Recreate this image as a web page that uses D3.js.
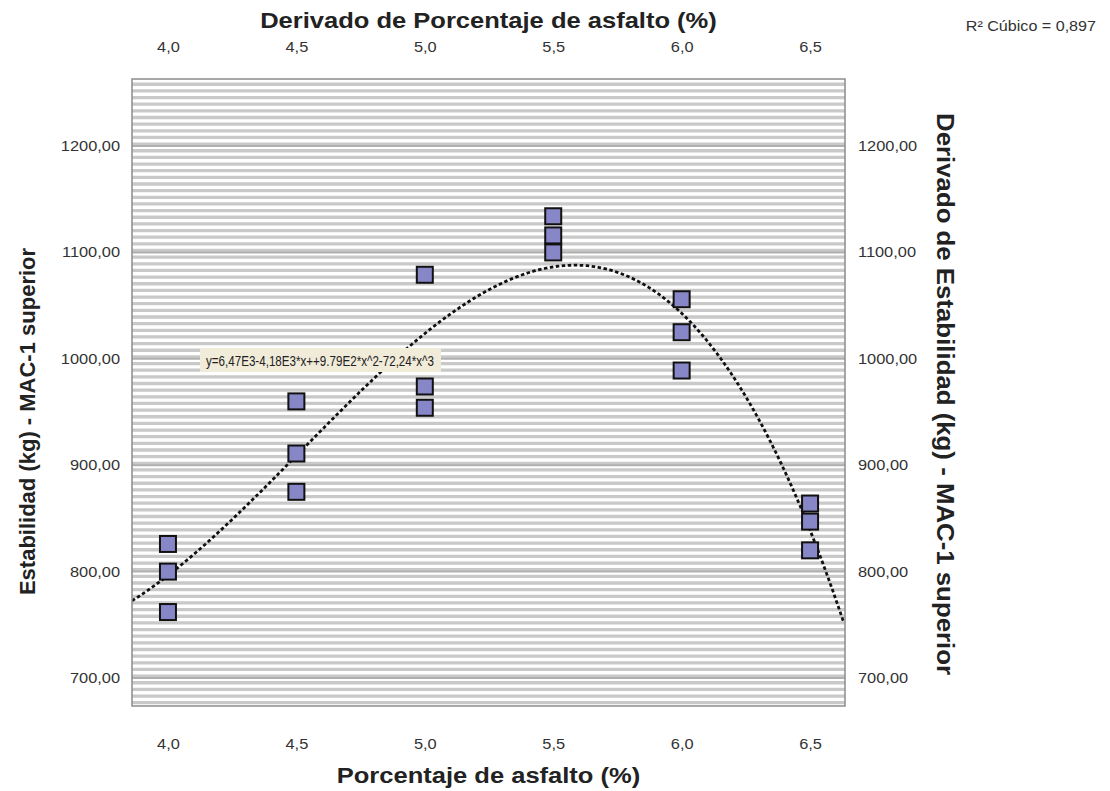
<!DOCTYPE html>
<html>
<head>
<meta charset="utf-8">
<script src="https://cdnjs.cloudflare.com/ajax/libs/d3/7.8.5/d3.min.js"></script>
<style>
  body { margin: 0; background: #fff; }
  text { font-family: "Liberation Sans", Arial, sans-serif; }
</style>
</head>
<body>
<div id="chart"></div>
<script>
// asphalt % and stability (kg)
var asfalto = [4.0, 4.0, 4.0, 4.5, 4.5, 4.5, 5.0, 5.0, 5.0, 5.5, 5.5, 5.5, 6.0, 6.0, 6.0, 6.5, 6.5, 6.5];
var estabilidad = [826, 800, 762, 960, 911, 875, 1079, 974, 954, 1134, 1116, 1100, 1056, 1025, 989, 864, 847, 820];
var xTicks = [4.0, 4.5, 5.0, 5.5, 6.0, 6.5];
var yTicks = [700, 800, 900, 1000, 1100, 1200];
var ecuacion = "y=6,47E3-4,18E3*x++9.79E2*x^2-72,24*x^3";
var r2Label = "R\u00B2 C\u00FAbico = 0,897";

var width = 1110, height = 791;
var margin = { top: 79, right: 265, bottom: 85, left: 132 };
var iw = width - margin.left - margin.right,
    ih = height - margin.top - margin.bottom;

var x = d3.scaleLinear().domain([3.86, 6.636]).range([0, iw]);
var y = d3.scaleLinear().domain([673.7, 1263]).range([ih, 0]);

var comma = function (f) {
  return function (d) { return d3.format(f)(d).replace(".", ","); };
};

// the source picture is a bit wider than tall, so stretch text horizontally
function stretch(sel, k) {
  sel.each(function () {
    var w = this.getComputedTextLength();
    d3.select(this).attr("textLength", w * k).attr("lengthAdjust", "spacingAndGlyphs");
  });
}

var svg = d3.select("#chart").append("svg")
  .attr("width", width).attr("height", height);
var g = svg.append("g")
  .attr("transform", "translate(" + margin.left + "," + margin.top + ")");

// striped background
g.append("rect").attr("width", iw).attr("height", ih).attr("fill", "#fff");
var stripes = d3.range(y.domain()[0] + 3.1, y.domain()[1], 6.25);
g.selectAll("line.stripe").data(stripes).enter().append("line")
  .attr("class", "stripe")
  .attr("x1", 0).attr("x2", iw)
  .attr("y1", function (d) { return y(d); })
  .attr("y2", function (d) { return y(d); })
  .attr("stroke", "#c9c9c9")
  .attr("stroke-width", 3.3);

// major grid
g.selectAll("line.grid").data(yTicks).enter().append("line")
  .attr("class", "grid")
  .attr("x1", 0).attr("x2", iw)
  .attr("y1", function (d) { return y(d); })
  .attr("y2", function (d) { return y(d); })
  .attr("stroke", "#b0b0b0")
  .attr("stroke-width", 2);

// cubic least squares fit
function cubicFit(xs, ys) {
  var n = 4, A = [], b = [];
  for (var i = 0; i < n; i++) {
    A.push([]);
    for (var j = 0; j < n; j++) A[i].push(d3.sum(xs, function (v) { return Math.pow(v, i + j); }));
    b.push(d3.sum(xs, function (v, k) { return ys[k] * Math.pow(v, i); }));
  }
  for (var c = 0; c < n; c++) {
    for (var r = c + 1; r < n; r++) {
      var f = A[r][c] / A[c][c];
      for (var k = c; k < n; k++) A[r][k] -= f * A[c][k];
      b[r] -= f * b[c];
    }
  }
  var coef = [0, 0, 0, 0];
  for (var r2 = n - 1; r2 >= 0; r2--) {
    var s = b[r2];
    for (var k2 = r2 + 1; k2 < n; k2++) s -= A[r2][k2] * coef[k2];
    coef[r2] = s / A[r2][r2];
  }
  return coef;
}
var coef = cubicFit(asfalto, estabilidad);
var curveX = d3.range(x.domain()[0], x.domain()[1] + 0.001, 0.01);
var curve = curveX.map(function (v) {
  return { x: v, y: coef[0] + coef[1] * v + coef[2] * v * v + coef[3] * v * v * v };
});

g.append("clipPath").attr("id", "clip").append("rect").attr("width", iw).attr("height", ih);

g.append("path")
  .datum(curve)
  .attr("clip-path", "url(#clip)")
  .attr("fill", "none")
  .attr("stroke", "#111")
  .attr("stroke-width", 2.8)
  .attr("stroke-dasharray", "3.5,2.5")
  .attr("d", d3.line().x(function (d) { return x(d.x); }).y(function (d) { return y(d.y); }));

// equation label
var eq = g.append("g").attr("transform", "translate(" + (200 - margin.left) + "," + (348 - margin.top) + ")");
eq.append("rect").attr("width", 241).attr("height", 24).attr("fill", "#f1ebda");
eq.append("text").attr("x", 6).attr("y", 17.5)
  .attr("font-size", 15).attr("fill", "#222")
  .attr("textLength", 228).attr("lengthAdjust", "spacingAndGlyphs")
  .text(ecuacion);

// points
var s = 16;
g.selectAll("rect.pt").data(asfalto).enter().append("rect")
  .attr("class", "pt")
  .attr("x", function (d) { return x(d) - s / 2; })
  .attr("y", function (d, i) { return y(estabilidad[i]) - s / 2; })
  .attr("width", s).attr("height", s)
  .attr("fill", "#8787c7")
  .attr("stroke", "#111")
  .attr("stroke-width", 2);

// frame
g.append("rect").attr("width", iw).attr("height", ih)
  .attr("fill", "none").attr("stroke", "#8c8c8c").attr("stroke-width", 1.5);

// axes
function styleAxis(sel) {
  sel.select(".domain").remove();
  sel.selectAll(".tick line").remove();
  sel.selectAll(".tick text").attr("font-size", 14).attr("fill", "#333")
    .attr("font-family", "Liberation Sans, Arial, sans-serif")
    .call(stretch, 1.17);
}
g.append("g").attr("transform", "translate(0," + ih + ")")
  .call(d3.axisBottom(x).tickValues(xTicks).tickFormat(comma(".1f")).tickPadding(27))
  .call(styleAxis);
g.append("g")
  .call(d3.axisTop(x).tickValues(xTicks).tickFormat(comma(".1f")).tickPadding(21))
  .call(styleAxis);
g.append("g")
  .call(d3.axisLeft(y).tickValues(yTicks).tickFormat(comma(".2f")).tickPadding(6))
  .call(styleAxis);
g.append("g").attr("transform", "translate(" + iw + ",0)")
  .call(d3.axisRight(y).tickValues(yTicks).tickFormat(comma(".2f")).tickPadding(7))
  .call(styleAxis);

// titles
svg.append("text").attr("x", margin.left + iw / 2).attr("y", 28)
  .attr("text-anchor", "middle").attr("font-size", 22).attr("font-weight", "bold")
  .attr("fill", "#222").text("Derivado de Porcentaje de asfalto (%)")
  .call(stretch, 1.16);
svg.append("text").attr("x", margin.left + iw / 2).attr("y", 783)
  .attr("text-anchor", "middle").attr("font-size", 22).attr("font-weight", "bold")
  .attr("fill", "#222").text("Porcentaje de asfalto (%)")
  .call(stretch, 1.16);
svg.append("text")
  .attr("transform", "translate(35," + (margin.top + ih / 2 + 29) + ") rotate(-90)")
  .attr("text-anchor", "middle").attr("font-size", 22).attr("font-weight", "bold")
  .attr("fill", "#222").text("Estabilidad (kg) - MAC-1 superior");
svg.append("text")
  .attr("transform", "translate(937," + 394 + ") rotate(90)")
  .attr("text-anchor", "middle").attr("font-size", 23).attr("font-weight", "bold")
  .attr("fill", "#222")
  .attr("textLength", 562).attr("lengthAdjust", "spacingAndGlyphs")
  .text("Derivado de Estabilidad (kg) - MAC-1 superior");
svg.append("text").attr("x", 1096).attr("y", 31)
  .attr("text-anchor", "end").attr("font-size", 14).attr("fill", "#333")
  .text(r2Label)
  .call(stretch, 1.15);
</script>
</body>
</html>
